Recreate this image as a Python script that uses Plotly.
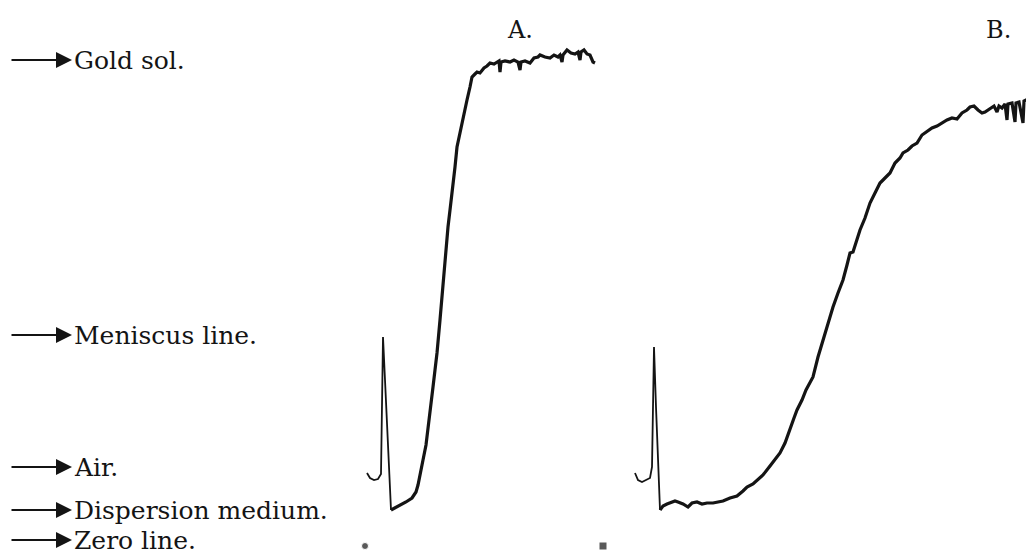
import plotly.graph_objects as go

# Levels (deflection units, zero line = 0)
level_names = ["Gold sol.", "Meniscus line.", "Air.", "Dispersion medium.", "Zero line."]
level_values = [487, 212, 80, 37, 7]

# Curve A: air hook + meniscus spike
a_spike_x = [367, 370, 374, 378, 381, 382, 383, 385, 388, 391]
a_spike_y = [74, 69, 67, 68, 73, 127, 210, 167, 97, 37]
# Curve A: rise to gold sol plateau
a_rise_x = [391, 395, 400, 406, 412, 416, 418, 421, 423, 426, 428, 431, 433, 435, 437, 440,
            443, 445, 448, 450, 453, 455, 457, 460, 462, 465, 467, 470, 472, 475, 477, 480,
            484, 487, 490, 494, 497, 499, 500, 501, 505, 510, 514, 518, 520, 521, 525, 530,
            534, 538, 540, 545, 550, 554, 558, 560, 562, 563, 567, 571, 575, 578, 580, 581,
            584, 587, 590, 593, 595]
a_rise_y = [37, 39, 42, 45, 49, 55, 62, 75, 87, 102, 117, 139, 160, 177, 194, 227,
            264, 282, 320, 337, 360, 380, 400, 415, 424, 439, 447, 460, 470, 473, 475, 474,
            479, 481, 484, 483, 485, 486, 475, 485, 486, 485, 487, 485, 477, 485, 486, 484,
            489, 490, 492, 490, 489, 492, 490, 492, 485, 492, 497, 494, 493, 495, 487, 495,
            497, 493, 492, 485, 484]

# Curve B: air hook + meniscus spike
b_spike_x = [635, 638, 642, 646, 650, 652, 653, 654, 656, 658, 660]
b_spike_y = [74, 67, 65, 67, 69, 80, 147, 200, 140, 80, 37]
# Curve B: slow rise
b_rise_x = [660, 663, 667, 670, 675, 678, 683, 688, 692, 697, 702, 707, 713, 718, 723, 730,
            737, 743, 747, 753, 758, 763, 770, 775, 780, 785, 790, 794, 797, 802, 806, 810,
            813, 818, 823, 828, 833, 838, 843, 847, 850, 853, 856, 860, 865, 870, 875, 880,
            885, 890, 895, 900, 903, 908, 912, 917, 922, 927, 932, 937, 942, 947, 952, 957,
            962, 967, 970, 974, 978, 982, 985, 988, 991, 994, 997, 999, 1002, 1005, 1007,
            1008, 1012, 1015, 1016, 1019, 1023, 1024, 1028, 1033]
b_rise_y = [37, 41, 43, 44, 46, 45, 43, 40, 44, 45, 43, 44, 44, 45, 46, 49,
            51, 56, 60, 63, 68, 72, 81, 87, 94, 104, 119, 129, 137, 147, 157, 165,
            170, 190, 207, 225, 240, 254, 267, 282, 294, 295, 305, 317, 329, 344, 354, 364,
            369, 374, 384, 389, 394, 397, 401, 404, 412, 416, 419, 421, 424, 427, 429, 428,
            434, 437, 440, 441, 437, 434, 435, 437, 439, 441, 435, 441, 439, 443, 427,
            443, 444, 425, 444, 445, 424, 446, 448, 450]

# Zero-line marks
zero_x = [365, 603]
zero_y = [1, 1]

panel_labels = ["A.", "B."]
panel_x = [520, 998]
panel_y = [517, 517]

INK = "#141414"
fig = go.Figure()
fig.add_trace(go.Scatter(x=a_spike_x, y=a_spike_y, mode="lines",
                         line=dict(color=INK, width=1.8), hoverinfo="skip"))
fig.add_trace(go.Scatter(x=a_rise_x, y=a_rise_y, mode="lines",
                         line=dict(color=INK, width=3.2), hoverinfo="skip"))
fig.add_trace(go.Scatter(x=b_spike_x, y=b_spike_y, mode="lines",
                         line=dict(color=INK, width=1.8), hoverinfo="skip"))
fig.add_trace(go.Scatter(x=b_rise_x, y=b_rise_y, mode="lines",
                         line=dict(color=INK, width=3.2), hoverinfo="skip"))
fig.add_trace(go.Scatter(x=zero_x, y=zero_y, mode="markers",
                         marker=dict(color=INK, size=[7, 8], symbol=["circle", "square"]),
                         hoverinfo="skip"))

annotations = []
for name, lv in zip(level_names, level_values):
    annotations.append(dict(x=72, y=lv, ax=10, ay=lv, xref="x", yref="y",
                            axref="x", ayref="y", showarrow=True, arrowhead=2,
                            arrowsize=1.6, arrowwidth=2, arrowcolor=INK, text=""))
    annotations.append(dict(x=72, y=lv, xref="x", yref="y", showarrow=False,
                            text=name, xanchor="left", yanchor="middle",
                            font=dict(family="DejaVu Serif", size=25, color=INK)))
for t, px, py in zip(panel_labels, panel_x, panel_y):
    annotations.append(dict(x=px, y=py, xref="x", yref="y", showarrow=False, text=t,
                            xanchor="center", yanchor="middle",
                            font=dict(family="DejaVu Serif", size=24, color=INK)))

# page body has an 8px margin, so the figure is sized to fit the remaining window
fig.update_layout(
    width=1026, height=547,
    margin=dict(l=0, r=0, t=0, b=0),
    paper_bgcolor="white", plot_bgcolor="white",
    showlegend=False,
    xaxis=dict(range=[8, 1034], visible=False, fixedrange=True),
    yaxis=dict(range=[-8, 539], visible=False, fixedrange=True),
    annotations=annotations,
)
fig.write_html("out.html")
